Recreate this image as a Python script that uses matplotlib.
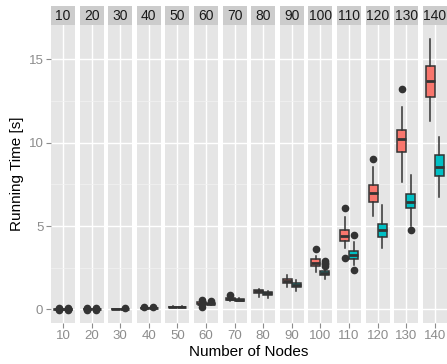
import matplotlib
matplotlib.use("Agg")
import matplotlib.pyplot as plt

plt.rcParams['font.family'] = ['Liberation Sans', 'DejaVu Sans']

nodes = [10, 20, 30, 40, 50, 60, 70, 80, 90, 100, 110, 120, 130, 140]

# series 1 (red)
a_med = [0.00, 0.01, 0.02, 0.09, 0.16, 0.35, 0.64, 1.08, 1.72, 2.80, 4.42, 7.00, 10.24, 13.70]
a_q1 = [-0.01, 0.00, 0.01, 0.07, 0.15, 0.30, 0.58, 0.98, 1.60, 2.60, 4.10, 6.44, 9.46, 12.76]
a_q3 = [0.01, 0.02, 0.03, 0.11, 0.17, 0.42, 0.70, 1.16, 1.82, 3.00, 4.76, 7.46, 10.76, 14.62]
a_lo = [-0.03, -0.02, 0.00, 0.04, 0.14, 0.22, 0.52, 0.76, 1.36, 2.26, 3.66, 5.60, 7.66, 11.32]
a_hi = [0.03, 0.04, 0.04, 0.14, 0.18, 0.52, 0.78, 1.24, 2.06, 3.20, 5.56, 8.56, 12.16, 16.20]
a_out = [[0.07, -0.06], [0.07, -0.06], [], [0.16], [], [0.58, 0.14], [0.84], [], [],
         [3.62], [6.06, 3.10], [9.00], [13.20], []]

# series 2 (cyan)
b_med = [0.00, 0.01, 0.03, 0.09, 0.16, 0.34, 0.58, 0.96, 1.48, 2.20, 3.26, 4.76, 6.44, 8.56]
b_q1 = [-0.01, 0.00, 0.02, 0.07, 0.15, 0.30, 0.52, 0.84, 1.34, 2.04, 3.00, 4.32, 6.10, 8.00]
b_q3 = [0.01, 0.02, 0.04, 0.11, 0.17, 0.40, 0.64, 1.04, 1.60, 2.32, 3.50, 5.10, 6.92, 9.24]
b_lo = [-0.03, -0.02, 0.01, 0.04, 0.14, 0.24, 0.48, 0.70, 1.12, 1.80, 2.66, 3.66, 5.00, 6.76]
b_hi = [0.03, 0.04, 0.05, 0.14, 0.18, 0.46, 0.68, 1.10, 1.76, 2.45, 4.06, 6.24, 8.06, 10.36]
b_out = [[0.07, -0.06], [0.07, -0.06], [0.08], [0.16], [], [0.52], [], [], [],
         [2.92, 2.80, 2.70, 2.60], [4.44, 2.36], [], [4.74], []]

colors = ['#F8766D', '#00BFC4']


def stats(med, q1, q3, lo, hi, out):
    return dict(med=med, q1=q1, q3=q3, whislo=lo, whishi=hi, fliers=out)


def main():
    W, H = 447, 364
    fig = plt.figure(figsize=(W / 100, H / 100), dpi=100)

    left, pw, pitch = 51, 24, 28.6
    top, bottom, strip_h = 25, 322.7, 19
    grey = '#8C8C8C'

    for i, n in enumerate(nodes):
        x0 = left + i * pitch
        ax = fig.add_axes([x0 / W, (H - bottom) / H, pw / W, (bottom - top) / H])
        ax.set_facecolor('#E5E5E5')
        for s in ax.spines.values():
            s.set_visible(False)

        st = [stats(a_med[i], a_q1[i], a_q3[i], a_lo[i], a_hi[i], a_out[i]),
              stats(b_med[i], b_q1[i], b_q3[i], b_lo[i], b_hi[i], b_out[i])]
        bp = ax.bxp(st, positions=[0.775, 1.225], widths=0.45, patch_artist=True,
                    showcaps=False, manage_ticks=False,
                    boxprops=dict(edgecolor='#333333', linewidth=1.1),
                    whiskerprops=dict(color='#333333', linewidth=1.1),
                    medianprops=dict(color='#333333', linewidth=2.0),
                    flierprops=dict(marker='o', markerfacecolor='#333333',
                                    markeredgecolor='#333333', markersize=4.5))
        for patch, c in zip(bp['boxes'], colors):
            patch.set_facecolor(c)

        ax.set_xlim(0.4, 1.6)
        ax.set_ylim(-0.80, 17.06)
        ax.set_yticks([0, 5, 10, 15])
        ax.set_yticks([2.5, 7.5, 12.5], minor=True)
        ax.set_xticks([1])
        ax.set_xticklabels([str(n)])
        ax.grid(which='major', color='white', linewidth=1.0)
        ax.grid(which='minor', axis='y', color='#F2F2F2', linewidth=0.5)
        ax.set_axisbelow(True)
        ax.tick_params(axis='both', which='major', colors=grey, labelsize=9.5,
                       length=3.5, width=0.8, pad=2)
        ax.tick_params(which='minor', length=0)
        if i > 0:
            ax.tick_params(axis='y', left=False, labelleft=False)

        sax = fig.add_axes([x0 / W, (H - top) / H, pw / W, strip_h / H])
        sax.set_facecolor('#CCCCCC')
        sax.set_xticks([])
        sax.set_yticks([])
        for s in sax.spines.values():
            s.set_visible(False)
        sax.text(0.5, 0.45, str(n), ha='center', va='center', fontsize=10,
                 color='#1A1A1A', transform=sax.transAxes)

    fig.text((left + (left + 13 * pitch + pw)) / 2 / W, 1 - 352 / H, 'Number of Nodes',
             ha='center', va='center', fontsize=11)
    fig.text(17 / W, 1 - (top + bottom) / 2 / H, 'Running Time [s]', rotation=90,
             ha='center', va='center', fontsize=11)

    fig.savefig('out.png', dpi=100)


if __name__ == "__main__":
    main()
